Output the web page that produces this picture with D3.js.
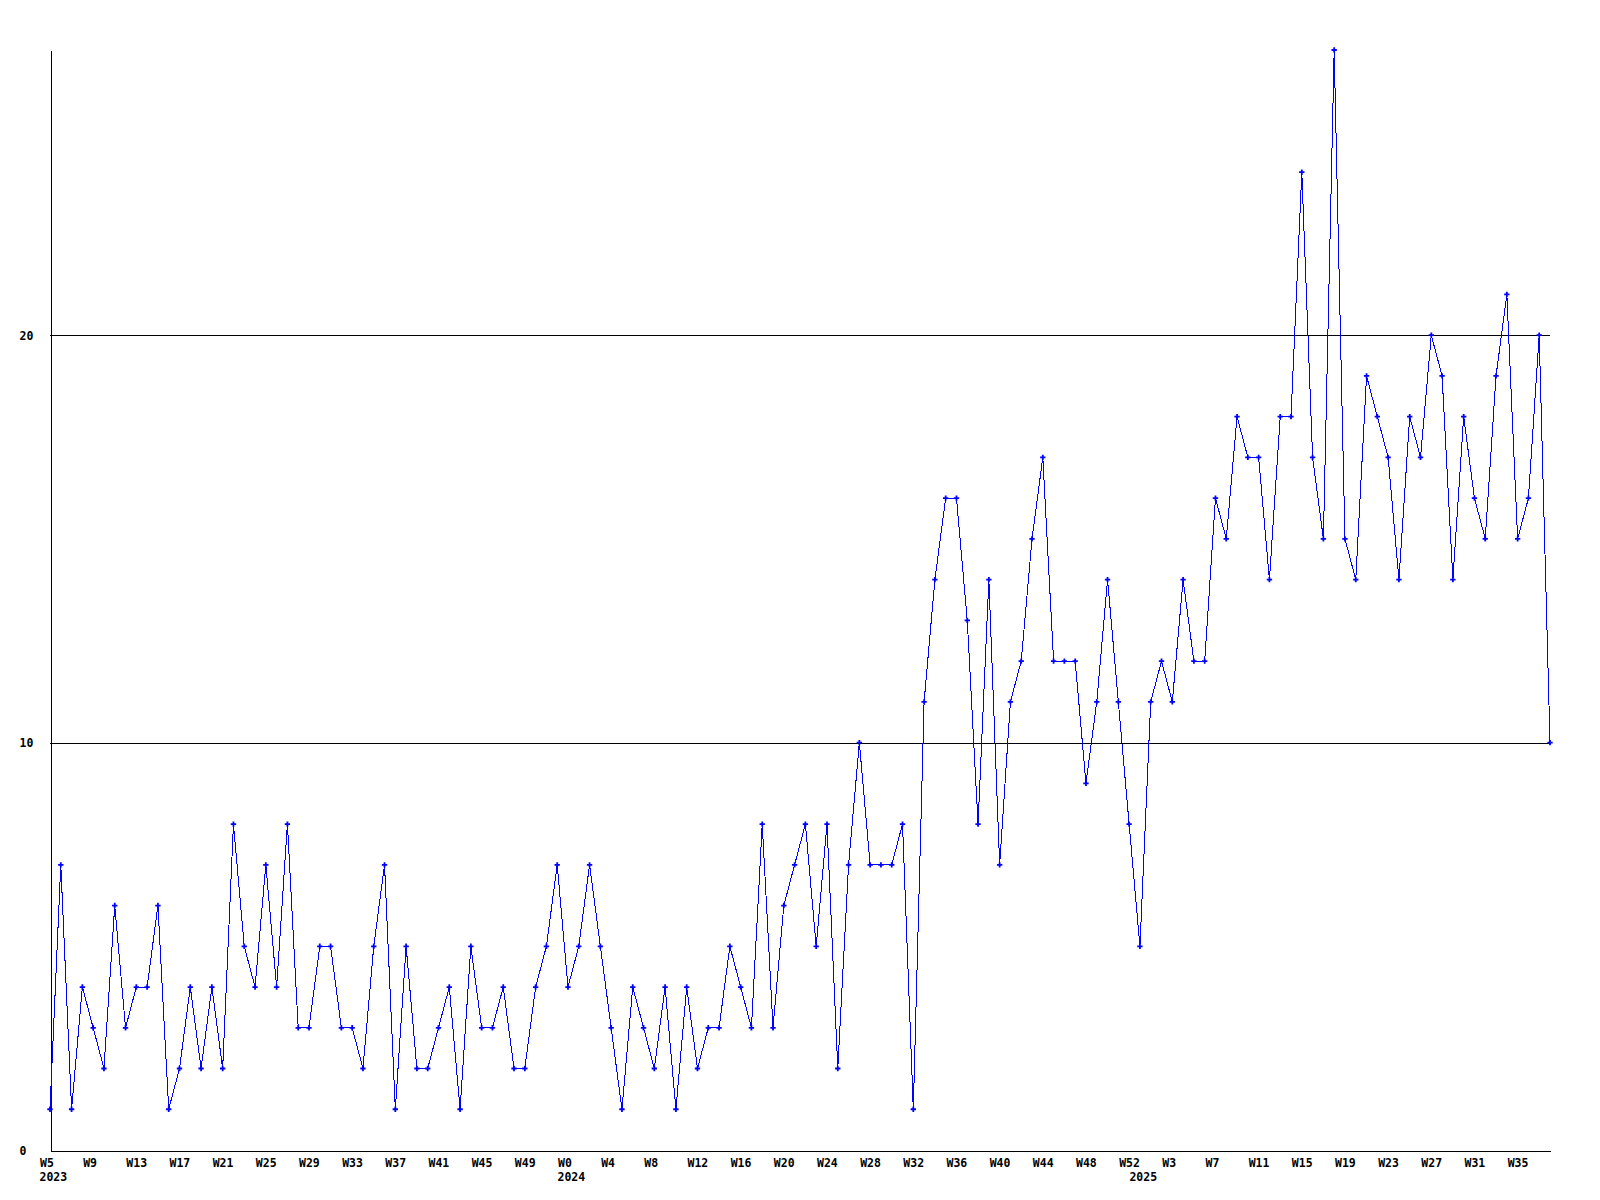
<!DOCTYPE html>
<html>
<head>
<meta charset="utf-8">
<script src="https://cdn.jsdelivr.net/npm/d3@7"></script>
<style>
  body { margin: 0; background: #fff; }
  text { font-family: "DejaVu Sans Mono", "Liberation Mono", monospace; font-weight: bold; font-size: 11.5px; fill: #000; }
</style>
</head>
<body>
<svg id="chart"></svg>
<script>
// Weekly counts, 2023 W5 .. 2025 W38
const years = [2023, 2024, 2025];
const firstWeek = [5, 0, 0];
const lastWeek = [52, 52, 38];

const counts = [
  1, 7, 1, 4, 3, 2, 6, 3, 4, 4, 6, 1, 2, 4, 2, 4, 2, 8, 5, 4, 7, 4, 8,
  3, 3, 5, 5, 3, 3, 2, 5, 7, 1, 5, 2, 2, 3, 4, 1, 5, 3, 3, 4, 2, 2, 4, 5,
  7, 4, 5, 7, 5, 3, 1, 4, 3, 2, 4, 1, 4, 2, 3, 3, 5, 4, 3, 8, 3, 6, 7,
  8, 5, 8, 2, 7, 10, 7, 7, 7, 8, 1, 11, 14, 16, 16, 13, 8, 14, 7, 11, 12, 15, 17,
  12, 12, 12, 9, 11, 14, 11, 8, 5, 11, 12, 11, 14, 12, 12, 16, 15, 18, 17, 17, 14, 18, 18,
  24, 17, 15, 27, 15, 14, 19, 18, 17, 14, 18, 17, 20, 19, 14, 18, 16, 15, 19, 21, 15, 16, 20, 10
];

const yTicks = [0, 10, 20];
const gridValues = [10, 20];
const labelEvery = 4;

const width = 1600,
      height = 1200,
      plotLeft = 50,
      plotRight = 1550,
      plotTop = 50,
      plotBottom = 1150;

// week categories, one per count
const weeks = [];
years.forEach((yr, k) => {
  d3.range(firstWeek[k], lastWeek[k] + 1).forEach(w => weeks.push({ year: yr, week: w }));
});
const data = counts.map((c, i) => ({ i: i, year: weeks[i].year, week: weeks[i].week, count: c }));

const svg = d3.select("#chart").attr("width", width).attr("height", height);

const x = d3.scaleLinear().domain([0, data.length - 1]).range([plotLeft, plotRight]);
const y = d3.scaleLinear().domain([0, d3.max(counts)]).range([plotBottom, plotTop]);

// grid lines
svg.selectAll(".grid")
  .data(gridValues)
  .enter()
  .append("line")
  .attr("x1", plotLeft).attr("x2", plotRight)
  .attr("y1", d => Math.round(y(d)) + 0.5).attr("y2", d => Math.round(y(d)) + 0.5)
  .attr("stroke", "#000")
  .attr("shape-rendering", "crispEdges");

// x axis
const xAxis = d3.axisBottom(x)
  .tickValues(d3.range(0, data.length, labelEvery))
  .tickSize(0)
  .tickSizeOuter(0)
  .tickFormat(i => "W" + data[i].week);

const gx = svg.append("g")
  .attr("transform", `translate(0,${plotBottom + 0.5})`)
  .call(xAxis);
gx.select(".domain").attr("stroke", "#000").attr("shape-rendering", "crispEdges");
gx.selectAll(".tick text")
  .attr("text-anchor", "start")
  .attr("x", -10.5)
  .attr("y", 16)
  .attr("dy", 0);
gx.attr("font-family", null).attr("font-size", null);

// year labels under first week of each year
const yearStarts = data.filter((d, i) => i === 0 || d.year !== data[i - 1].year);
svg.selectAll(".year")
  .data(yearStarts)
  .enter()
  .append("text")
  .attr("class", "year")
  .attr("x", d => x(d.i) - 10.5)
  .attr("y", plotBottom + 31)
  .text(d => d.year);

// y axis
const yAxis = d3.axisLeft(y)
  .tickValues(yTicks)
  .tickSize(0)
  .tickSizeOuter(0)
  .tickFormat(d3.format("d"));

const gy = svg.append("g")
  .attr("transform", `translate(${plotLeft + 0.5},0)`)
  .call(yAxis);
gy.select(".domain").attr("stroke", "#000").attr("shape-rendering", "crispEdges");
gy.selectAll(".tick text")
  .attr("text-anchor", "start")
  .attr("x", -31)
  .attr("dy", "0.35em");
gy.attr("font-family", null).attr("font-size", null);

// series line
const line = d3.line()
  .x(d => x(d.i))
  .y(d => y(d.count));

svg.append("path")
  .datum(data)
  .attr("fill", "none")
  .attr("stroke", "#0000ff")
  .attr("stroke-width", 1)
  .attr("shape-rendering", "crispEdges")
  .attr("d", line);

// point markers
const marker = d3.symbol().type(d3.symbolCross).size(16);
svg.selectAll(".pt")
  .data(data)
  .enter()
  .append("path")
  .attr("class", "pt")
  .attr("transform", d => `translate(${x(d.i)},${y(d.count)})`)
  .attr("fill", "#0000ff")
  .attr("d", marker);
</script>
</body>
</html>
